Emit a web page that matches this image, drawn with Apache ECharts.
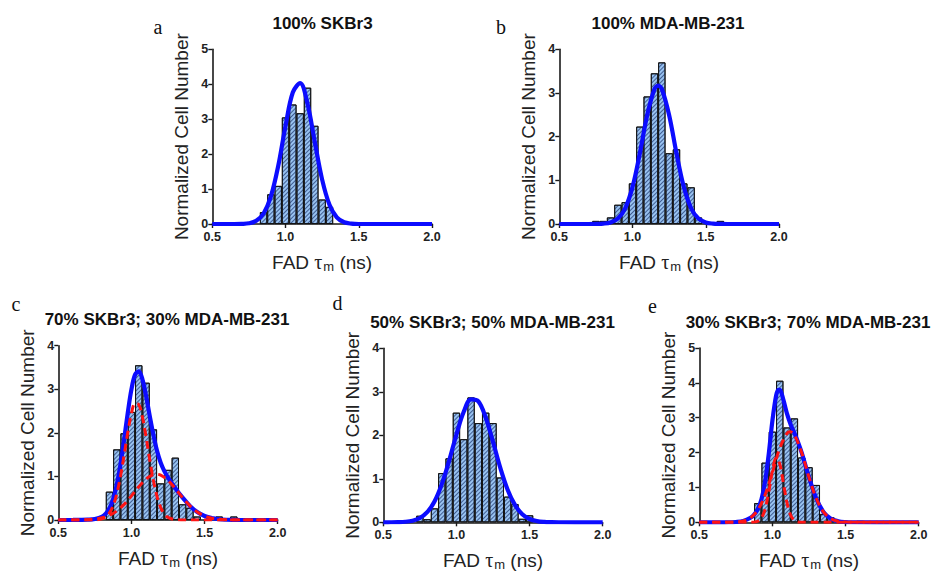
<!DOCTYPE html>
<html>
<head>
<meta charset="utf-8">
<script src="https://cdn.jsdelivr.net/npm/echarts@6/dist/echarts.min.js"></script>
<style>
html,body{margin:0;padding:0;background:#fff;}
#chart{width:934px;height:571px;}
</style>
</head>
<body>
<div id="chart"></div>
<script>
// ---------------- DATA ----------------
const titles = ['100% SKBr3', '100% MDA-MB-231', '70% SKBr3; 30% MDA-MB-231', '50% SKBr3; 50% MDA-MB-231', '30% SKBr3; 70% MDA-MB-231'];
const letters = ['a', 'b', 'c', 'd', 'e'];
const xTicks = [0.5, 1.0, 1.5, 2.0];
const yMaxes = [5, 4, 4, 4, 5];
const binWidth = 0.05;

// histogram bin centres (ns) and normalized cell numbers
const aBins = [0.85, 0.90, 0.95, 1.00, 1.05, 1.10, 1.15, 1.20, 1.25, 1.30];
const aHeights = [0.34, 0.85, 1.09, 3.05, 3.42, 3.17, 3.90, 2.81, 0.70, 0.49];
const bBins = [0.75, 0.80, 0.85, 0.90, 0.95, 1.00, 1.05, 1.10, 1.15, 1.20, 1.25, 1.30, 1.35, 1.40, 1.45, 1.50, 1.55, 1.60];
const bHeights = [0.07, 0.07, 0.15, 0.44, 0.50, 0.93, 2.23, 2.92, 3.45, 3.70, 1.62, 1.71, 0.93, 0.84, 0.15, 0, 0, 0.07];
const cBins = [0.85, 0.90, 0.95, 1.00, 1.05, 1.10, 1.15, 1.20, 1.25, 1.30, 1.35, 1.40, 1.45, 1.50, 1.55, 1.60, 1.65, 1.70];
const cHeights = [0.65, 1.62, 1.99, 2.48, 3.55, 3.15, 2.08, 0.84, 1.15, 1.43, 0.36, 0.28, 0.08, 0, 0, 0.08, 0, 0.08];
const dBins = [0.75, 0.80, 0.85, 0.90, 0.95, 1.00, 1.05, 1.10, 1.15, 1.20, 1.25, 1.30, 1.35, 1.40, 1.45, 1.50];
const dHeights = [0.15, 0.07, 0.32, 1.13, 1.47, 2.52, 1.91, 2.87, 2.28, 2.52, 2.28, 1.03, 0.59, 0.42, 0.08, 0.16];
const eBins = [0.75, 0.80, 0.85, 0.90, 0.95, 1.00, 1.05, 1.10, 1.15, 1.20, 1.25, 1.30, 1.35, 1.40, 1.45, 1.50, 1.55, 1.60];
const eHeights = [0.04, 0, 0, 0.55, 1.71, 2.60, 4.06, 2.72, 2.98, 1.86, 1.58, 1.07, 0.24, 0.14, 0, 0, 0, 0.04];

// fitted curves
const aFitX = [0.50, 0.65, 0.70, 0.75, 0.80, 0.85, 0.90, 0.95, 1.00, 1.05, 1.10, 1.15, 1.20, 1.25, 1.30, 1.35, 1.40, 1.45, 1.50, 2.00];
const aFitY = [0, 0, 0.004, 0.02, 0.09, 0.30, 0.79, 1.66, 2.81, 3.77, 4.03, 3.44, 2.34, 1.27, 0.55, 0.19, 0.05, 0.01, 0, 0];
const bFitX = [0.50, 0.70, 0.75, 0.80, 0.85, 0.90, 0.95, 1.00, 1.05, 1.10, 1.15, 1.175, 1.20, 1.25, 1.30, 1.35, 1.40, 1.45, 1.50, 1.55, 1.60, 1.65, 2.00];
const bFitY = [0, 0, 0.001, 0.008, 0.034, 0.124, 0.36, 0.85, 1.62, 2.49, 3.09, 3.17, 3.09, 2.49, 1.62, 0.85, 0.36, 0.124, 0.034, 0.008, 0.001, 0, 0];
const cFitX = [0.50, 0.60, 0.65, 0.70, 0.75, 0.80, 0.825, 0.85, 0.875, 0.90, 0.925, 0.95, 0.975, 1.00, 1.025, 1.05, 1.075, 1.10, 1.125, 1.15, 1.175, 1.20, 1.225, 1.25, 1.30, 1.35, 1.40, 1.45, 1.50, 1.55, 1.60, 1.65, 1.70, 1.75, 2.00];
const cFitY = [0, 0.001, 0.003, 0.008, 0.024, 0.078, 0.147, 0.270, 0.481, 0.812, 1.277, 1.848, 2.461, 2.998, 3.336, 3.412, 3.229, 2.847, 2.389, 1.954, 1.589, 1.314, 1.121, 0.972, 0.730, 0.512, 0.324, 0.184, 0.093, 0.042, 0.017, 0.006, 0.002, 0, 0];
const cComp1X = [0.50, 0.70, 0.75, 0.80, 0.825, 0.85, 0.875, 0.90, 0.925, 0.95, 0.975, 1.00, 1.025, 1.05, 1.075, 1.10, 1.125, 1.15, 1.175, 1.20, 1.225, 1.25, 1.30, 1.35, 1.40, 2.00];
const cComp1Y = [0, 0, 0.003, 0.028, 0.072, 0.162, 0.329, 0.604, 1.0, 1.49, 2.01, 2.445, 2.678, 2.65, 2.37, 1.905, 1.385, 0.913, 0.539, 0.285, 0.139, 0.061, 0.009, 0.001, 0, 0];
const cComp2X = [0.50, 0.60, 0.65, 0.70, 0.75, 0.80, 0.85, 0.90, 0.95, 1.00, 1.05, 1.10, 1.15, 1.17, 1.20, 1.25, 1.30, 1.35, 1.40, 1.45, 1.50, 1.55, 1.60, 1.65, 1.70, 1.75, 2.00];
const cComp2Y = [0, 0.001, 0.003, 0.008, 0.021, 0.050, 0.108, 0.208, 0.358, 0.553, 0.762, 0.942, 1.041, 1.05, 1.029, 0.911, 0.721, 0.511, 0.324, 0.184, 0.093, 0.042, 0.017, 0.006, 0.002, 0, 0];
const dFitX = [0.50, 0.55, 0.60, 0.65, 0.70, 0.75, 0.80, 0.85, 0.90, 0.95, 1.00, 1.05, 1.10, 1.15, 1.20, 1.25, 1.30, 1.35, 1.40, 1.45, 1.50, 1.55, 1.60, 1.65, 1.70, 2.00];
const dFitY = [0, 0.001, 0.004, 0.012, 0.037, 0.099, 0.232, 0.48, 0.878, 1.415, 2.018, 2.54, 2.827, 2.78, 2.41, 1.85, 1.25, 0.75, 0.40, 0.185, 0.076, 0.028, 0.009, 0.003, 0.001, 0];
const eFitX = [0.50, 0.65, 0.70, 0.75, 0.80, 0.85, 0.875, 0.90, 0.925, 0.95, 0.975, 1.00, 1.025, 1.04, 1.05, 1.075, 1.10, 1.125, 1.15, 1.175, 1.20, 1.25, 1.30, 1.35, 1.40, 1.45, 1.50, 1.55, 2.00];
const eFitY = [0, 0, 0.001, 0.009, 0.038, 0.13, 0.223, 0.38, 0.66, 1.17, 1.97, 2.92, 3.63, 3.80, 3.80, 3.51, 3.11, 2.80, 2.56, 2.30, 2.00, 1.29, 0.68, 0.29, 0.10, 0.03, 0.007, 0.001, 0];
const eComp1X = [0.50, 0.85, 0.875, 0.90, 0.925, 0.95, 0.975, 1.00, 1.025, 1.05, 1.075, 1.10, 1.125, 1.15, 1.175, 1.20, 1.25, 2.00];
const eComp1Y = [0, 0.001, 0.005, 0.029, 0.122, 0.381, 0.877, 1.48, 1.84, 1.676, 1.122, 0.551, 0.199, 0.053, 0.010, 0.002, 0, 0];
const eComp2X = [0.50, 0.65, 0.70, 0.75, 0.80, 0.85, 0.90, 0.95, 1.00, 1.05, 1.10, 1.12, 1.15, 1.20, 1.25, 1.30, 1.35, 1.40, 1.45, 1.50, 1.55, 2.00];
const eComp2Y = [0, 0, 0.002, 0.009, 0.038, 0.128, 0.352, 0.788, 1.434, 2.124, 2.557, 2.60, 2.505, 1.996, 1.294, 0.682, 0.292, 0.102, 0.029, 0.007, 0.001, 0];

// ---------------- LAYOUT / STYLE ----------------
const SANS = "'Liberation Sans', Arial, Helvetica, sans-serif";
const SERIF = "'Liberation Serif', 'Times New Roman', serif";
const grids = [
  {left: 212.3, top: 49.3, width: 219.7, height: 174.7},
  {left: 559.3, top: 49.3, width: 219.7, height: 174.7},
  {left: 58.3, top: 345.7, width: 219.4, height: 174.3},
  {left: 383.3, top: 348.3, width: 219.4, height: 174.0},
  {left: 699.3, top: 348.0, width: 219.4, height: 174.3}
];
const titlePos = [[322.5, 23], [668, 23], [167, 319], [492.5, 322], [808, 322]];
const letterPos = [[158, 27], [501, 27], [16, 304], [337.5, 303], [652.5, 306]];

const hist = [[aBins, aHeights], [bBins, bHeights], [cBins, cHeights], [dBins, dHeights], [eBins, eHeights]];
const fits = [[aFitX, aFitY], [bFitX, bFitY], [cFitX, cFitY], [dFitX, dFitY], [eFitX, eFitY]];
const comps = [[], [], [[cComp1X, cComp1Y], [cComp2X, cComp2Y]], [], [[eComp1X, eComp1Y], [eComp2X, eComp2Y]]];

const axisColor = '#1a1a1a';
const xMin = xTicks[0], xMax = xTicks[xTicks.length - 1];
const xInterval = xTicks[1] - xTicks[0];

const option = {
  animation: false,
  backgroundColor: '#ffffff',
  aria: {enabled: true, decal: {show: true}},
  grid: grids.map(g => Object.assign({containLabel: false, outerBoundsMode: 'none'}, g)),
  xAxis: grids.map((g, i) => ({
    type: 'value', gridIndex: i, min: xMin, max: xMax, interval: xInterval,
    axisLine: {show: true, onZero: false, lineStyle: {color: axisColor, width: 1.6}},
    axisTick: {show: true, inside: false, length: 4, lineStyle: {color: axisColor, width: 1.4}},
    splitLine: {show: false},
    axisLabel: {margin: 7, color: '#222', fontWeight: 'bold', fontSize: 12.5, lineHeight: 12, fontFamily: SANS,
      formatter: v => v.toFixed(1)},
    name: 'FAD {t|τ}{s|m} (ns)',
    nameLocation: 'middle', nameGap: 27,
    nameTextStyle: {color: '#222', fontSize: 19, fontFamily: SANS,
      rich: {t: {fontSize: 20, fontFamily: SERIF, color: '#222'},
             s: {fontSize: 13, fontFamily: SANS, color: '#222', padding: [9, 0, 0, 1]}}}
  })),
  yAxis: grids.map((g, i) => ({
    type: 'value', gridIndex: i, min: 0, max: yMaxes[i], interval: 1,
    axisLine: {show: true, onZero: false, lineStyle: {color: axisColor, width: 1.6}},
    axisTick: {show: true, inside: false, length: 4, lineStyle: {color: axisColor, width: 1.4}},
    splitLine: {show: false},
    axisLabel: {margin: 4, color: '#222', fontWeight: 'bold', fontSize: 12.5, lineHeight: 11, fontFamily: SANS},
    name: 'Normalized Cell Number',
    nameLocation: 'middle', nameRotate: 90, nameGap: 21,
    nameTextStyle: {color: '#222', fontSize: 19, fontFamily: SANS}
  })),
  series: [],
  graphic: []
};

hist.forEach((h, i) => {
  const bins = h[0], heights = h[1];
  option.series.push({
    type: 'bar', xAxisIndex: i, yAxisIndex: i, z: 2,
    barWidth: grids[i].width * binWidth / (xMax - xMin),
    data: bins.map((c, k) => [c, heights[k]]).filter(d => d[1] > 0),
    itemStyle: {
      color: '#98c2f0', borderColor: '#111', borderWidth: 0.9,
      decal: {symbol: 'rect', symbolSize: 1, color: 'rgba(25,50,105,0.7)',
        dashArrayX: [1, 0], dashArrayY: [0.9, 2.0], rotation: -Math.PI / 4}
    },
    emphasis: {disabled: true}
  });
});

fits.forEach((f, i) => {
  option.series.push({
    type: 'line', xAxisIndex: i, yAxisIndex: i, z: 3, smooth: 0.35,
    showSymbol: false, symbol: 'none',
    data: f[0].map((x, k) => [x, f[1][k]]),
    lineStyle: {color: '#0c0cff', width: 4.2},
    emphasis: {disabled: true}
  });
});

comps.forEach((list, i) => {
  list.forEach(cp => {
    option.series.push({
      type: 'line', xAxisIndex: i, yAxisIndex: i, z: 4, smooth: 0.35,
      showSymbol: false, symbol: 'none',
      data: cp[0].map((x, k) => [x, cp[1][k]]),
      lineStyle: {color: '#ff1414', width: 3, type: [8, 5]},
      emphasis: {disabled: true}
    });
  });
});

titles.forEach((t, i) => {
  option.graphic.push({
    type: 'text', x: titlePos[i][0], y: titlePos[i][1], z: 10,
    style: {text: t, fill: '#111', font: 'bold 17px ' + SANS, textAlign: 'center', textVerticalAlign: 'middle'}
  });
});
letters.forEach((t, i) => {
  option.graphic.push({
    type: 'text', x: letterPos[i][0], y: letterPos[i][1], z: 10,
    style: {text: t, fill: '#111', font: '20px ' + SERIF, textAlign: 'center', textVerticalAlign: 'middle'}
  });
});

const chart = echarts.init(document.getElementById('chart'), null, {renderer: 'svg', width: 934, height: 571});
chart.setOption(option);
</script>
</body>
</html>
